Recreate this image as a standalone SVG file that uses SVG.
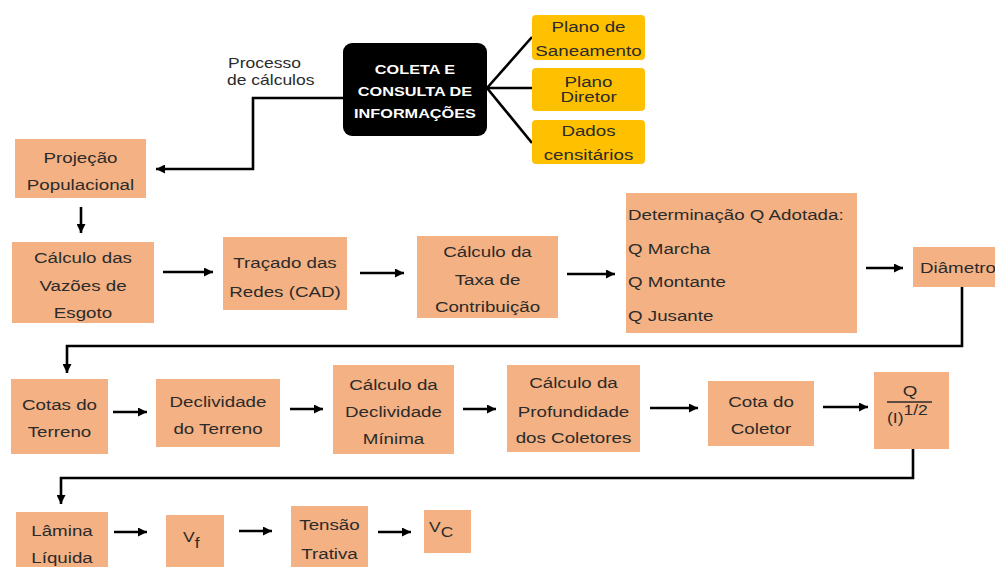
<svg xmlns="http://www.w3.org/2000/svg" width="995" height="567" viewBox="0 0 995 567">
<style>
.box{fill:#F4B183}
.yel{fill:#FFC000}
.blk{fill:#000}
text{font-family:"Liberation Sans",Arial,sans-serif;font-size:15px;fill:#2b2b2b}
.c{text-anchor:middle}
.w{fill:#fff;font-weight:bold;font-size:13px}
.s14{font-size:14px}
.conn path{fill:none;stroke:#000;stroke-width:2.6}
.conn path.a{marker-end:url(#ah)}
</style>
<defs>
<marker id="ah" viewBox="0 0 10 10" refX="10" refY="5" markerWidth="9" markerHeight="9" markerUnits="userSpaceOnUse" orient="auto">
<path d="M0,0 L10,5 L0,10 z" fill="#000"/>
</marker>
</defs>
<rect width="995" height="567" fill="#fff"/>
<g class="conn">
<path d="M487 88 L532 37"/>
<path d="M487 88 H532"/>
<path d="M487 88 L532 143"/>
<path class="a" d="M343 98 H253 V169 H156"/>
<path class="a" d="M81 207 V233"/>
<path class="a" d="M163 272 H213"/>
<path class="a" d="M360 273 H404"/>
<path class="a" d="M567 274 H615"/>
<path class="a" d="M866 268 H903"/>
<path class="a" d="M962 287 V346 H67 V373"/>
<path class="a" d="M113 412 H147"/>
<path class="a" d="M290 409 H323"/>
<path class="a" d="M463 409 H496"/>
<path class="a" d="M650 408 H698"/>
<path class="a" d="M823 407 H868"/>
<path class="a" d="M913 449 V478 H61 V504"/>
<path class="a" d="M114 532 H147"/>
<path class="a" d="M239 531 H272"/>
<path class="a" d="M378 532 H411"/>
</g>
<g id="processo">
<text class="s14" transform="translate(228 68) scale(1.25 1)">Processo</text>
<text class="s14" transform="translate(227 85) scale(1.25 1)">de cálculos</text>
</g>
<g id="coleta">
<rect class="blk" x="343" y="43" width="144" height="93" rx="9"/>
<text class="c w" transform="translate(415 74) scale(1.25 1)">COLETA E</text>
<text class="c w" transform="translate(415 96) scale(1.25 1)">CONSULTA DE</text>
<text class="c w" transform="translate(415 118) scale(1.25 1)">INFORMAÇÕES</text>
</g>
<g id="plano-saneamento">
<rect class="yel" x="532" y="15" width="113" height="45" rx="4"/>
<text class="c" transform="translate(588.5 32) scale(1.25 1)">Plano de</text>
<text class="c" transform="translate(588.5 56) scale(1.25 1)">Saneamento</text>
</g>
<g id="plano-diretor">
<rect class="yel" x="532" y="68" width="113" height="43" rx="4"/>
<text class="c" transform="translate(588.5 87) scale(1.25 1)">Plano</text>
<text class="c" transform="translate(588.5 102) scale(1.25 1)">Diretor</text>
</g>
<g id="dados">
<rect class="yel" x="532" y="120" width="113" height="44" rx="4"/>
<text class="c" transform="translate(588.5 136) scale(1.25 1)">Dados</text>
<text class="c" transform="translate(588.5 160) scale(1.25 1)">censitários</text>
</g>
<g id="projecao">
<rect class="box" x="15" y="139" width="131" height="59"/>
<text class="c" transform="translate(80.5 163) scale(1.25 1)">Projeção</text>
<text class="c" transform="translate(80.5 190) scale(1.25 1)">Populacional</text>
</g>
<g id="vazoes">
<rect class="box" x="12" y="242" width="142" height="81"/>
<text class="c" transform="translate(83 263) scale(1.25 1)">Cálculo das</text>
<text class="c" transform="translate(83 291) scale(1.25 1)">Vazões de</text>
<text class="c" transform="translate(83 318) scale(1.25 1)">Esgoto</text>
</g>
<g id="tracado">
<rect class="box" x="223" y="237" width="124" height="73"/>
<text class="c" transform="translate(285 268) scale(1.25 1)">Traçado das</text>
<text class="c" transform="translate(285 297) scale(1.25 1)">Redes (CAD)</text>
</g>
<g id="taxa">
<rect class="box" x="417" y="236" width="141" height="82"/>
<text class="c" transform="translate(487.5 257) scale(1.25 1)">Cálculo da</text>
<text class="c" transform="translate(487.5 285) scale(1.25 1)">Taxa de</text>
<text class="c" transform="translate(487.5 312) scale(1.25 1)">Contribuição</text>
</g>
<g id="q-adotada">
<rect class="box" x="626" y="193" width="231" height="140"/>
<text transform="translate(628 220) scale(1.25 1)">Determinação Q Adotada:</text>
<text transform="translate(628 254) scale(1.25 1)">Q Marcha</text>
<text transform="translate(628 287) scale(1.25 1)">Q Montante</text>
<text transform="translate(628 321) scale(1.25 1)">Q Jusante</text>
</g>
<g id="diametro">
<rect class="box" x="913" y="247" width="90" height="40"/>
<text transform="translate(920 273) scale(1.25 1)">Diâmetro</text>
</g>
<g id="cotas-terreno">
<rect class="box" x="11" y="379" width="97" height="75"/>
<text class="c" transform="translate(59.5 410) scale(1.25 1)">Cotas do</text>
<text class="c" transform="translate(59.5 437) scale(1.25 1)">Terreno</text>
</g>
<g id="declividade-terreno">
<rect class="box" x="156" y="379" width="124" height="68"/>
<text class="c" transform="translate(218 407) scale(1.25 1)">Declividade</text>
<text class="c" transform="translate(218 434) scale(1.25 1)">do Terreno</text>
</g>
<g id="declividade-minima">
<rect class="box" x="333" y="365" width="121" height="89"/>
<text class="c" transform="translate(393.5 390) scale(1.25 1)">Cálculo da</text>
<text class="c" transform="translate(393.5 417) scale(1.25 1)">Declividade</text>
<text class="c" transform="translate(393.5 444) scale(1.25 1)">Mínima</text>
</g>
<g id="profundidade">
<rect class="box" x="507" y="365" width="133" height="87"/>
<text class="c" transform="translate(573.5 388) scale(1.25 1)">Cálculo da</text>
<text class="c" transform="translate(573.5 417) scale(1.25 1)">Profundidade</text>
<text class="c" transform="translate(573.5 443) scale(1.25 1)">dos Coletores</text>
</g>
<g id="cota-coletor">
<rect class="box" x="708" y="381" width="106" height="65"/>
<text class="c" transform="translate(761 407) scale(1.25 1)">Cota do</text>
<text class="c" transform="translate(761 434) scale(1.25 1)">Coletor</text>
</g>
<g id="q-raiz">
<rect class="box" x="874" y="372" width="75" height="77"/>
<text class="c" transform="translate(910 396) scale(1.25 1)">Q</text>
<path d="M887 402 H932" stroke="#2b2b2b" stroke-width="1.3"/>
<text class="s14" transform="translate(887 423) scale(1.25 1)">(I)<tspan dy="-8">1/2</tspan></text>
</g>
<g id="lamina">
<rect class="box" x="16" y="512" width="92" height="60"/>
<text class="c" transform="translate(62 536) scale(1.25 1)">Lâmina</text>
<text class="c" transform="translate(62 563) scale(1.25 1)">Líquida</text>
</g>
<g id="vf">
<rect class="box" x="166" y="515" width="58" height="57"/>
<text class="s14" transform="translate(183 542) scale(1.25 1)">V<tspan dy="6">f</tspan></text>
</g>
<g id="tensao">
<rect class="box" x="291" y="506" width="77" height="66"/>
<text class="c" transform="translate(329.5 530) scale(1.25 1)">Tensão</text>
<text class="c" transform="translate(329.5 559) scale(1.25 1)">Trativa</text>
</g>
<g id="vc">
<rect class="box" x="424" y="510" width="47" height="43"/>
<text class="s14" transform="translate(429 532) scale(1.25 1)">V<tspan dy="5">C</tspan></text>
</g>
</svg>
